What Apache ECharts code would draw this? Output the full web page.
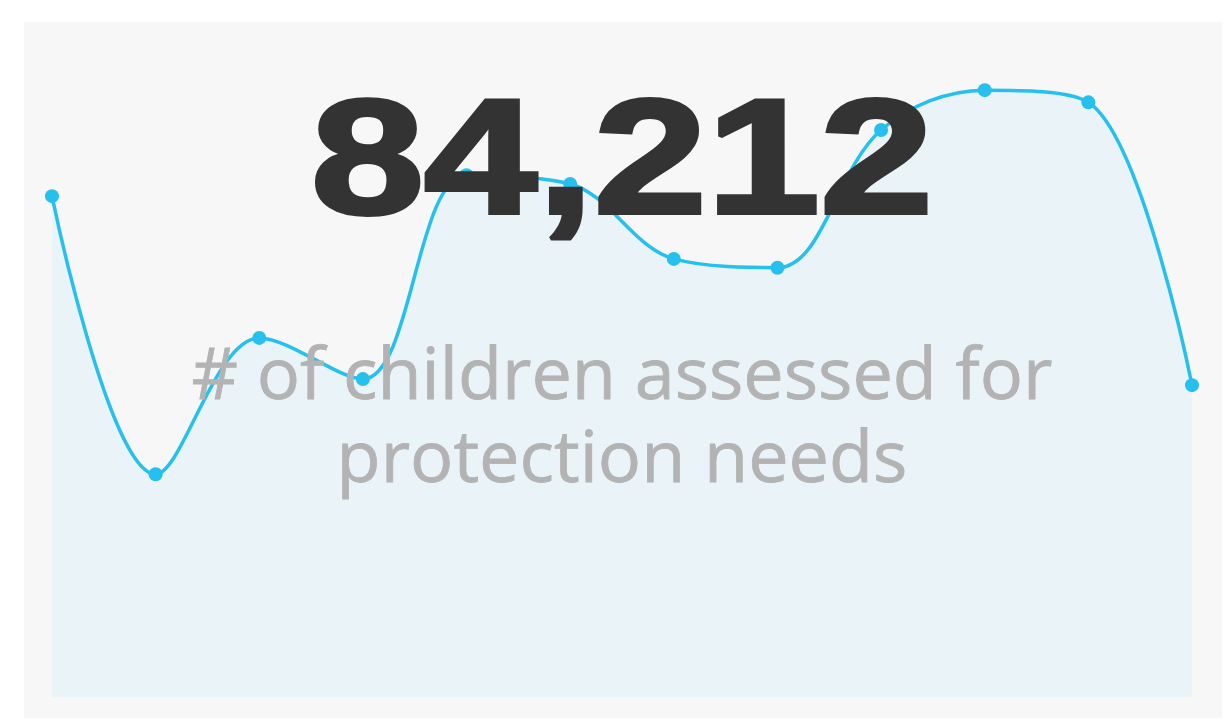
<!DOCTYPE html>
<html>
<head>
<meta charset="utf-8">
<script src="https://cdn.jsdelivr.net/npm/echarts@6/dist/echarts.min.js"></script>
<style>
  html, body { margin: 0; padding: 0; background: #fff; }
  #panel { position: absolute; left: 24px; top: 22px; width: 1198px; height: 696px; background: #f7f7f7; }
  #chart { position: absolute; left: 0; top: 0; width: 1229px; height: 724px; }
</style>
</head>
<body>
<div id="panel"></div>
<div id="chart"></div>
<script>
// monthly trend behind the KPI
const periods = ['1', '2', '3', '4', '5', '6', '7', '8', '9', '10', '11', '12']
const values = [74.2, 33.0, 53.2, 47.1, 77.3, 76.0, 64.9, 63.6, 84.0, 89.9, 88.1, 46.2]
const kpiValue = '84,212'
const kpiLabel = ['# of children assessed for', 'protection needs']

const lineColor = '#25c0ee'
const chart = echarts.init(document.getElementById('chart'))
chart.setOption({
    animation: false,
    grid: { left: 52, right: 37, top: 22, bottom: 27 },
    xAxis: {
        type: 'category',
        boundaryGap: false,
        data: periods,
        show: false
    },
    yAxis: {
        type: 'value',
        min: 0,
        max: 100,
        show: false
    },
    series: [{
        type: 'line',
        data: values,
        smooth: 0.35,
        symbol: 'circle',
        symbolSize: 14,
        z: 1,
        lineStyle: { color: lineColor, width: 3.5 },
        itemStyle: { color: lineColor },
        areaStyle: { color: '#eaf3f7', opacity: 1 }
    }],
    // texts sit on top of the sparkline
    graphic: [
        {
            type: 'text',
            x: 622,
            y: 86,
            scaleX: 1.24,
            z: 10,
            style: {
                text: kpiValue,
                x: 0,
                y: 0,
                textAlign: 'center',
                textVerticalAlign: 'top',
                font: 'bold 164px "Liberation Sans"',
                fill: '#333333',
                stroke: '#333333',
                lineWidth: 4
            }
        },
        {
            type: 'text',
            x: 622,
            y: 342,
            z: 10,
            style: {
                text: kpiLabel[0],
                x: 0,
                y: 0,
                textAlign: 'center',
                textVerticalAlign: 'top',
                font: '72px "Open Sans"',
                fill: '#b3b3b3',
                stroke: '#b3b3b3',
                lineWidth: 0.8
            }
        },
        {
            type: 'text',
            x: 622,
            y: 425,
            z: 10,
            style: {
                text: kpiLabel[1],
                x: 0,
                y: 0,
                textAlign: 'center',
                textVerticalAlign: 'top',
                font: '72px "Open Sans"',
                fill: '#b3b3b3',
                stroke: '#b3b3b3',
                lineWidth: 0.8
            }
        }
    ]
})
</script>
</body>
</html>
